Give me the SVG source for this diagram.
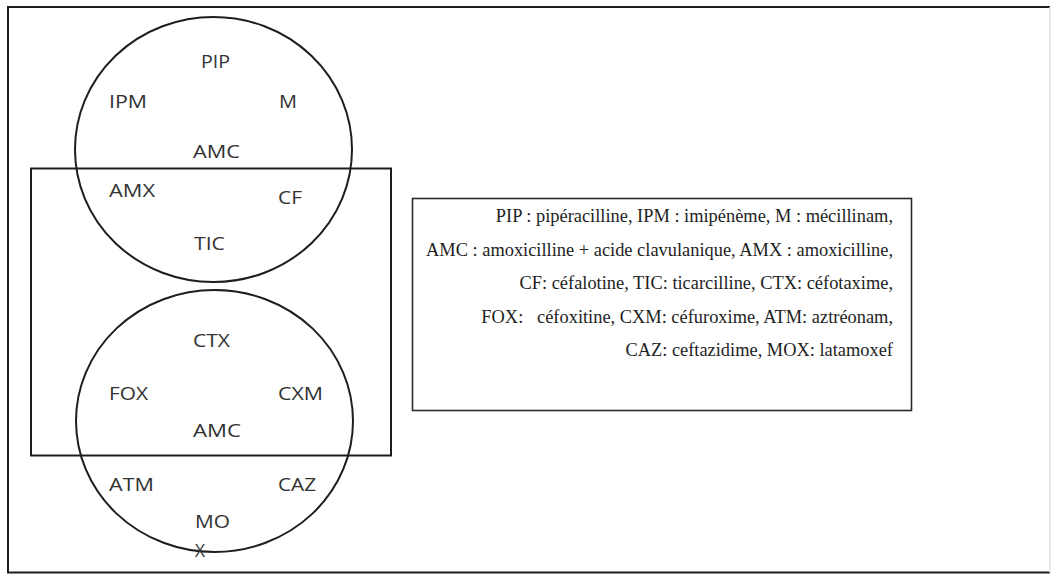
<svg xmlns="http://www.w3.org/2000/svg" width="1057" height="575" viewBox="0 0 1057 575">
<style>
.ln{fill:none;stroke:#1e1e1e;stroke-width:2}
.v{font-family:"Open Sans",sans-serif;font-size:17.5px;fill:#333}
.lg{font-family:"Liberation Serif","Times New Roman",serif;font-size:18.4px;fill:#1e1e1e;text-anchor:end;white-space:pre}
</style>
<rect width="1057" height="575" fill="#fff"/>
<g id="frame">
<path class="ln" d="M1050,7 L8,7 L8,572.5 L1050,572.5"/>
<line x1="1050" y1="7" x2="1050" y2="572.5" stroke="#e2e2e2" stroke-width="1.5"/>
</g>
<g id="inner-rect"><rect class="ln" x="31" y="168.5" width="360" height="287"/></g>
<g id="top-ellipse"><ellipse class="ln" cx="213.5" cy="149.5" rx="138.5" ry="132.5"/></g>
<g id="bottom-ellipse"><ellipse class="ln" cx="214.5" cy="421" rx="138.5" ry="131"/></g>
<g id="labels-top">
<text class="v" x="201" y="68" textLength="29" lengthAdjust="spacingAndGlyphs">PIP</text>
<text class="v" x="109" y="108" textLength="38" lengthAdjust="spacingAndGlyphs">IPM</text>
<text class="v" x="279" y="108" textLength="18" lengthAdjust="spacingAndGlyphs">M</text>
<text class="v" x="193" y="158" textLength="47" lengthAdjust="spacingAndGlyphs">AMC</text>
<text class="v" x="109" y="197" textLength="46" lengthAdjust="spacingAndGlyphs">AMX</text>
<text class="v" x="278" y="204" textLength="24" lengthAdjust="spacingAndGlyphs">CF</text>
<text class="v" x="194" y="250" textLength="31" lengthAdjust="spacingAndGlyphs">TIC</text>
</g>
<g id="labels-bottom">
<text class="v" x="193" y="347" textLength="37" lengthAdjust="spacingAndGlyphs">CTX</text>
<text class="v" x="109" y="400" textLength="39" lengthAdjust="spacingAndGlyphs">FOX</text>
<text class="v" x="278" y="400" textLength="45" lengthAdjust="spacingAndGlyphs">CXM</text>
<text class="v" x="193" y="437" textLength="48" lengthAdjust="spacingAndGlyphs">AMC</text>
<text class="v" x="109" y="491" textLength="45" lengthAdjust="spacingAndGlyphs">ATM</text>
<text class="v" x="278" y="491" textLength="38" lengthAdjust="spacingAndGlyphs">CAZ</text>
<text class="v" x="195" y="528" textLength="35" lengthAdjust="spacingAndGlyphs">MO</text>
<text class="v" x="195" y="557" textLength="10" lengthAdjust="spacingAndGlyphs">X</text>
</g>
<g id="legend">
<rect x="412.5" y="198.5" width="499" height="212" fill="none" stroke="#2a2a2a" stroke-width="1.6"/>
<text class="lg" x="893" y="222">PIP : pipéracilline, IPM : imipénème, M : mécillinam,</text>
<text class="lg" x="893" y="256">AMC : amoxicilline + acide clavulanique, AMX : amoxicilline,</text>
<text class="lg" x="893" y="289">CF: céfalotine, TIC: ticarcilline, CTX: céfotaxime,</text>
<text class="lg" x="893" y="323">FOX:   céfoxitine, CXM: céfuroxime, ATM: aztréonam,</text>
<text class="lg" x="893" y="356">CAZ: ceftazidime, MOX: latamoxef</text>
</g>
</svg>
